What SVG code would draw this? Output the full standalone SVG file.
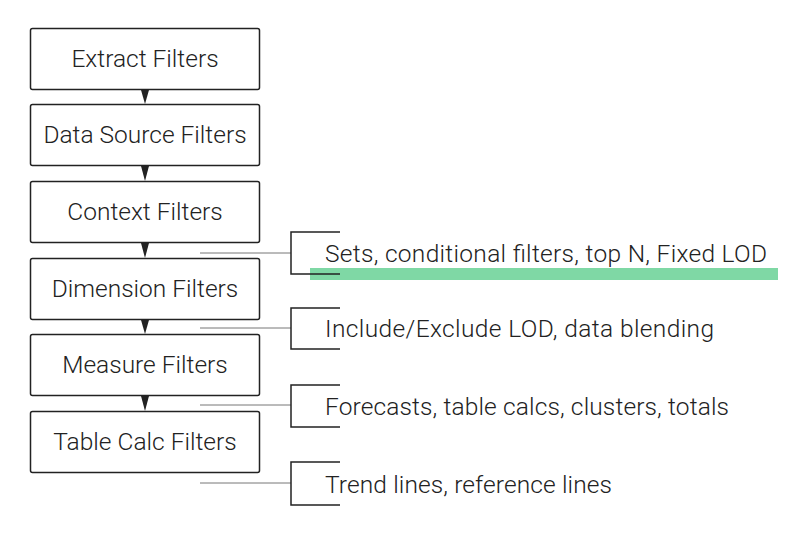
<svg xmlns="http://www.w3.org/2000/svg" width="800" height="535" viewBox="0 0 800 535">
<style>
.box{fill:#fff;stroke:#222;stroke-width:1.5}
.t{font-family:Roboto,"Liberation Sans",sans-serif;font-size:24.5px;font-weight:300;fill:#222}
.bt{text-anchor:middle}
.ln{stroke:#777;stroke-width:1;fill:none}
.br{stroke:#222;stroke-width:1.5;fill:none}
</style>
<rect width="800" height="535" fill="#fff"/>
<rect x="310" y="268" width="468" height="12" fill="#7fd8a5"/>
<g id="n1"><rect class="box" x="30.5" y="28.5" width="229" height="61" rx="2"/><text class="t bt" x="145" y="67">Extract Filters</text></g>
<g id="n2"><rect class="box" x="30.5" y="104.5" width="229" height="61" rx="2"/><text class="t bt" x="145" y="143">Data Source Filters</text></g>
<g id="n3"><rect class="box" x="30.5" y="181.5" width="229" height="61" rx="2"/><text class="t bt" x="145" y="220">Context Filters</text></g>
<g id="n4"><rect class="box" x="30.5" y="258.5" width="229" height="61" rx="2"/><text class="t bt" x="145" y="297">Dimension Filters</text></g>
<g id="n5"><rect class="box" x="30.5" y="334.5" width="229" height="61" rx="2"/><text class="t bt" x="145" y="373">Measure Filters</text></g>
<g id="n6"><rect class="box" x="30.5" y="411.5" width="229" height="61" rx="2"/><text class="t bt" x="145" y="450">Table Calc Filters</text></g>
<g id="connectors" fill="#222">
<polygon points="141,90 149,90 145,104"/>
<polygon points="141,166 149,166 145,181"/>
<polygon points="141,243 149,243 145,258"/>
<polygon points="141,320 149,320 145,334"/>
<polygon points="141,396 149,396 145,411"/>
<path class="ln" d="M200,253H291M200,328H291M200,405H291M200,483H291"/>
<path class="br" d="M340,232H291V274H340M340,308H291V349H340M340,385H291V427H340M340,462H291V505H340"/>
</g>
<text class="t" x="325" y="262" textLength="442">Sets, conditional filters, top N, Fixed LOD</text>
<text class="t" x="325" y="337" textLength="389">Include/Exclude LOD, data blending</text>
<text class="t" x="325" y="415" textLength="404">Forecasts, table calcs, clusters, totals</text>
<text class="t" x="325" y="493" textLength="287">Trend lines, reference lines</text>
</svg>
